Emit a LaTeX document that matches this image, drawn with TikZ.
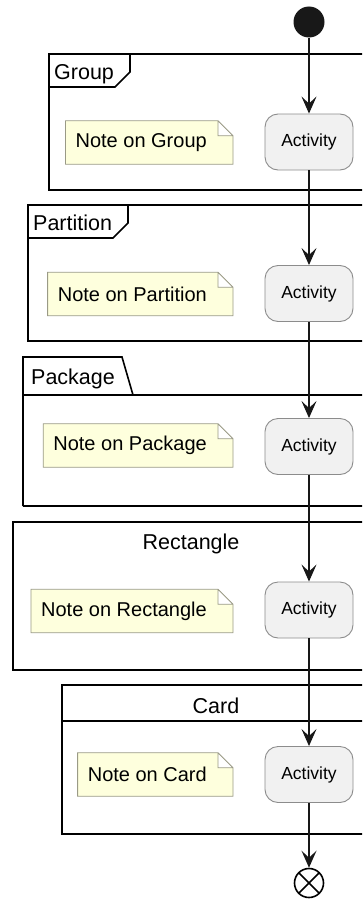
\documentclass[tikz,border=0pt]{standalone}
\usepackage{fontspec}
\setmainfont{Liberation Sans}
\usetikzlibrary{arrows.meta, positioning, backgrounds}

\definecolor{notefill}{HTML}{FEFFDD}
\definecolor{noteline}{HTML}{9A9A86}
\definecolor{actfill}{HTML}{F1F1F1}
\definecolor{actline}{HTML}{8C8C8C}
\definecolor{flowline}{HTML}{181818}

\begin{document}
\begin{tikzpicture}[
        x=1pt, y=-1pt,
        frame/.style={draw=black, line width=1.6pt},
        framelabel/.style={font=\fontsize{21.5}{25}\selectfont, inner sep=0pt},
        activity/.style={draw=actline, fill=actfill, line width=0.9pt, rounded corners=13pt, minimum width=88pt, minimum height=56pt, inner sep=0pt, font=\fontsize{17.5}{20}\selectfont},
        note/.style={anchor=east, inner xsep=10pt, inner ysep=0pt, minimum height=43pt, font=\fontsize{20}{24}\selectfont},
        notebox/.style={draw=noteline, fill=notefill, line width=0.8pt},
        start/.style={circle, fill=flowline, minimum size=31pt, inner sep=0pt},
        stop/.style={circle, draw=black, line width=1.6pt, minimum size=29pt, inner sep=0pt,
            path picture={\draw[line width=1.6pt] (path picture bounding box.north west) -- (path picture bounding box.south east)
                (path picture bounding box.north east) -- (path picture bounding box.south west);}},
        flow/.style={-{Stealth[length=17pt, width=15pt, inset=7pt]}, draw=flowline, line width=1.2pt}
    ]

    \useasboundingbox (0,0) rectangle (362,899);
    \clip (0,0) rectangle (362,899);

    % frames
    \draw[frame] (372,54) -- (49,54) -- (49,190) -- (372,190);
    \draw[frame] (49,87) -- (115,87) -- (130,72) -- (130,54);
    \node[framelabel, anchor=base west] (lblG) at (54,80) {Group};

    \draw[frame] (372,205) -- (28,205) -- (28,341) -- (372,341);
    \draw[frame] (28,238) -- (113,238) -- (128,223) -- (128,205);
    \node[framelabel, anchor=base west] (lblP) at (33,230) {Partition};

    \draw[frame] (23,506) -- (23,357) -- (122,357) -- (133,395);
    \draw[frame] (23,395) -- (372,395);
    \draw[frame] (23,506) -- (372,506);
    \node[framelabel, anchor=base west] (lblK) at (31,384) {Package};

    \draw[frame] (372,522) -- (13,522) -- (13,670) -- (372,670);
    \node[framelabel, anchor=base] (lblR) at (191,549) {Rectangle};

    \draw[frame] (372,685) -- (62,685) -- (62,834) -- (372,834);
    \draw[frame] (62,721) -- (372,721);
    \node[framelabel, anchor=base] (lblC) at (216,713) {Card};

    % notes
    \node[note] (noteG) at (217,142.5) {Note on Group};
    \node[note] (noteP) at (217,294) {Note on Partition};
    \node[note] (noteK) at (217,445.5) {Note on Package};
    \node[note] (noteR) at (217,611) {Note on Rectangle};
    \node[note] (noteC) at (217,774.5) {Note on Card};

    \begin{scope}[on background layer]
        \foreach \n in {noteG, noteP, noteK, noteR, noteC}
            \draw[notebox] (\n.south west) -- (\n.north west) -- ([xshift=1pt]\n.north east)
                -- ([xshift=16pt, yshift=-15pt]\n.north east) -- ([xshift=16pt]\n.south east) -- cycle
                ([xshift=1pt]\n.north east) |- ([xshift=16pt, yshift=-15pt]\n.north east);
    \end{scope}

    % activities
    \node[start] (start) at (309,22) {};
    \node[activity] (actG) at (309,142) {Activity};
    \node[activity] (actP) at (309,293.5) {Activity};
    \node[activity] (actK) at (309,446.5) {Activity};
    \node[activity] (actR) at (309,610) {Activity};
    \node[activity] (actC) at (309,774.5) {Activity};
    \node[stop] (stop) at (309,883) {};

    \draw[flow] (start) -- (actG);
    \draw[flow] (actG) -- (actP);
    \draw[flow] (actP) -- (actK);
    \draw[flow] (actK) -- (actR);
    \draw[flow] (actR) -- (actC);
    \draw[flow] (actC) -- (stop);

\end{tikzpicture}
\end{document}
